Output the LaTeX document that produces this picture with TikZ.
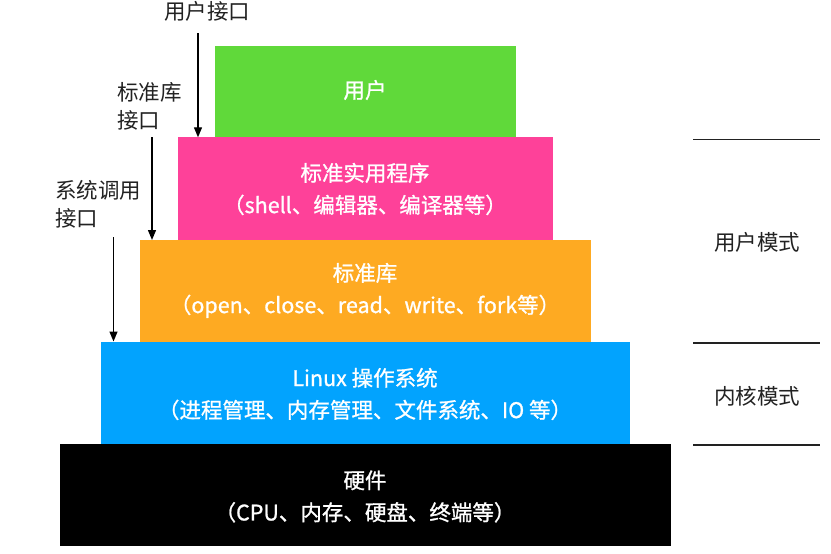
\documentclass[tikz,border=0pt]{standalone}
\usepackage{fontspec}
\setmainfont{Noto Sans CJK SC}
\newfontfamily\boxfont[FakeBold=1]{Noto Sans CJK SC}
\usetikzlibrary{arrows.meta}
\definecolor{cgreen}{HTML}{60D93A}
\definecolor{cpink}{HTML}{FE4199}
\definecolor{corange}{HTML}{FEAA22}
\definecolor{cblue}{HTML}{02A3FE}
\definecolor{cblack}{HTML}{000000}
\definecolor{clabel}{HTML}{222222}
\tikzset{
  layer/.style={inner sep=0pt, outer sep=0pt, draw=none},
  boxtxt/.style={text=white, font=\boxfont\fontsize{21.5}{32}\selectfont, align=center, inner sep=0pt},
  lbl/.style={text=clabel, font=\fontsize{21.5}{28}\selectfont, inner sep=0pt},
  arr/.style={-{Triangle[length=10pt,width=8pt]}, line width=1.3pt, black},
  sep/.style={line width=1.2pt, clabel}
}
\begin{document}
\begin{tikzpicture}[x=1pt,y=-1pt]
\useasboundingbox (0,0) rectangle (831,554);
% layers
\fill[cgreen] (215,45.5) rectangle (515.5,137.3);
\fill[cpink] (177.5,137.3) rectangle (553,240);
\fill[corange] (140,240) rectangle (591,341.5);
\fill[cblue] (100.5,341.5) rectangle (630,443.5);
\fill[cblack] (59.5,443.5) rectangle (670.5,546);
\coordinate (ptop) at (198,137.3);
\coordinate (otop) at (152,240);
\coordinate (btop) at (113.5,341.5);
% texts
\node[boxtxt] (t1) at (365,90) {用户};
\node[boxtxt] (t2) at (365,189) {标准实用程序\\（shell、编辑器、编译器等）};
\node[boxtxt] (t3) at (365,290.5) {标准库\\（open、close、read、write、fork等）};
\node[boxtxt] (t4) at (365,394) {Linux 操作系统\\（进程管理、内存管理、文件系统、IO 等）};
\node[boxtxt] (t5) at (365,496.5) {硬件\\（CPU、内存、硬盘、终端等）};
% left labels
\node[lbl] (l1) at (207,11) {用户接口};
\node[lbl, align=left, anchor=west] (l2) at (117,106) {标准库\\接口};
\node[lbl, align=left, anchor=west] (l3) at (55,204) {系统调用\\接口};
\coordinate (a1s) at (198,33);
\coordinate (a2s) at (152,137);
\coordinate (a3s) at (113.5,237);
\draw[arr] (a1s) -- (ptop);
\draw[arr] (a2s) -- (otop);
\draw[arr] (a3s) -- (btop);
% right side
\coordinate (r1a) at (693,139.5); \coordinate (r1b) at (820,139.5);
\coordinate (r2a) at (693,343); \coordinate (r2b) at (820,343);
\coordinate (r3a) at (693,445); \coordinate (r3b) at (820,445);
\draw[sep] (r1a) -- (r1b);
\draw[sep] (r2a) -- (r2b);
\draw[sep] (r3a) -- (r3b);
\node[lbl] (m1) at (757,242) {用户模式};
\node[lbl] (m2) at (757,396) {内核模式};
\end{tikzpicture}
\end{document}
